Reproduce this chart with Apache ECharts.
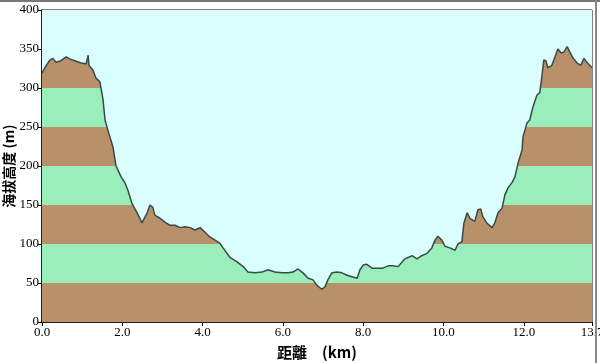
<!DOCTYPE html>
<html><head><meta charset="utf-8">
<script src="https://cdn.jsdelivr.net/npm/echarts@6/dist/echarts.min.js"></script>
<style>html,body{margin:0;padding:0;background:#fff}#c{width:600px;height:363px}</style>
</head><body><div id="c"></div>
<script>
const distanceKm = [0.00,0.07,0.20,0.27,0.35,0.47,0.60,0.70,0.82,0.97,1.10,1.15,1.17,1.27,1.34,1.44,1.47,1.52,1.57,1.64,1.77,1.84,1.89,1.97,2.07,2.14,2.24,2.37,2.49,2.52,2.62,2.69,2.76,2.81,2.94,3.06,3.19,3.31,3.44,3.56,3.69,3.81,3.94,4.06,4.18,4.31,4.43,4.51,4.68,4.86,5.01,5.13,5.31,5.48,5.63,5.80,5.98,6.13,6.25,6.38,6.50,6.63,6.75,6.85,6.97,7.05,7.12,7.22,7.35,7.47,7.60,7.72,7.85,7.92,8.00,8.09,8.22,8.34,8.49,8.62,8.74,8.87,9.04,9.22,9.34,9.46,9.59,9.71,9.79,9.86,9.96,10.04,10.16,10.29,10.36,10.46,10.51,10.59,10.66,10.78,10.86,10.93,10.98,11.08,11.21,11.28,11.36,11.46,11.53,11.61,11.71,11.78,11.86,11.96,11.98,12.08,12.15,12.23,12.33,12.40,12.45,12.50,12.55,12.60,12.70,12.78,12.85,12.93,13.00,13.08,13.15,13.23,13.33,13.42,13.50,13.57,13.70];
const elevationM = [319,326,336,338,333,335,340,337,335,332,331,342,329,323,313,308,300,285,259,246,224,201,195,186,178,169,152,140,127,128,140,150,147,137,133,128,124,124,121,122,121,118,121,115,109,105,101,95,83,77,71,64,63,64,67,64,63,63,64,68,63,56,54,47,42,45,54,63,64,63,60,58,56,67,73,74,69,69,69,72,72,71,81,85,81,85,88,95,105,110,105,97,95,92,100,103,127,140,133,129,144,145,135,127,121,127,140,146,163,172,179,186,204,221,237,255,259,276,291,294,314,336,335,326,329,340,350,345,346,353,346,338,332,329,338,333,326];
const xTickLabels = [0, 2, 4, 6, 8, 10, 12, 13.7];
const bandEdges = [0, 50, 100, 150, 200, 250, 300, 350, 400];

const brown = '#b8906a', green = '#9aeebb', sky = '#dafdfd';
const bands = [];
for (let i = 0; i < bandEdges.length - 1; i++) {
  bands.push([{yAxis: bandEdges[i], itemStyle: {color: i % 2 === 0 ? brown : green}}, {yAxis: bandEdges[i + 1]}]);
}
const pts = distanceKm.map((d, i) => [d, elevationM[i]]);

const chart = echarts.init(document.getElementById('c'), null, {renderer: 'canvas'});
chart.setOption({
  animation: false,
  backgroundColor: '#fff',
  grid: {left: 42, right: 8, top: 10, bottom: 41, containLabel: false, outerBoundsMode: 'none', show: true, borderColor: '#000', borderWidth: 1, backgroundColor: 'transparent'},
  xAxis: {
    type: 'value', min: 0, max: 13.7, interval: 2,
    name: '距離\u3000(km)', nameLocation: 'middle', nameGap: 23, nameMoveOverlap: false,
    nameTextStyle: {fontFamily: 'Noto Sans CJK TC', fontSize: 15, fontWeight: 'bold', color: '#000'},
    axisLine: {show: true, lineStyle: {color: '#000', width: 1.5}},
    axisTick: {show: true, inside: false, length: 4, customValues: xTickLabels, lineStyle: {color: '#000'}},
    axisLabel: {customValues: xTickLabels, formatter: v => v.toFixed(1), fontFamily: 'Liberation Serif', fontSize: 13, color: '#000', margin: 4, showMaxLabel: true},
    splitLine: {show: false}
  },
  yAxis: {
    type: 'value', min: 0, max: 400, interval: 50,
    name: '海拔高度 (m)', nameLocation: 'middle', nameGap: 26, nameRotate: 90, nameMoveOverlap: false,
    nameTextStyle: {fontFamily: 'Noto Sans CJK TC', fontSize: 14, fontWeight: 'bold', color: '#000'},
    axisLine: {show: true, lineStyle: {color: '#000', width: 1.5}},
    axisTick: {show: true, length: 4, lineStyle: {color: '#000'}},
    axisLabel: {fontFamily: 'Liberation Serif', fontSize: 13, color: '#000', margin: 3},
    splitLine: {show: false}
  },
  series: [
    {
      type: 'line', data: [], z: 1, silent: true,
      markArea: {silent: true, data: bands}
    },
    {
      type: 'line', data: pts, z: 2, symbol: 'none', silent: true,
      lineStyle: {color: '#3a4a44', width: 1.5},
      areaStyle: {origin: 'end', color: sky, opacity: 1}
    }
  ],
  graphic: [
    {type: 'rect', shape: {x: 0, y: 0, width: 600, height: 2}, style: {fill: '#777'}, z: 100},
    {type: 'rect', shape: {x: 595, y: 0, width: 2, height: 363}, style: {fill: '#888'}, z: 100}
  ]
});
</script></body></html>
